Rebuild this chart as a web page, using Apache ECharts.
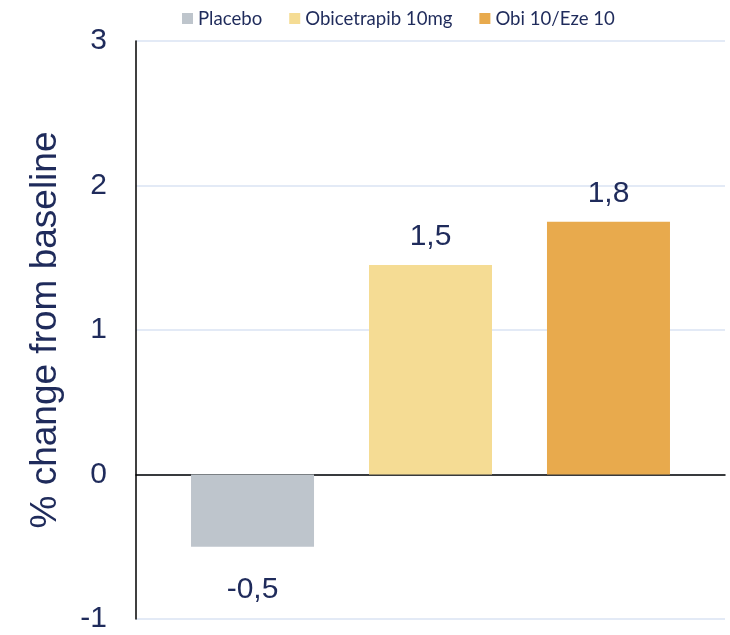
<!DOCTYPE html>
<html>
<head>
<meta charset="utf-8">
<script src="https://cdn.jsdelivr.net/npm/echarts@6/dist/echarts.min.js"></script>
<style>
html,body{margin:0;padding:0;background:#fff;}
#chart{width:730px;height:635px;}
</style>
</head>
<body>
<div id="chart"></div>
<script>
var categories = [''];
var seriesNames = ['Placebo', 'Obicetrapib 10mg', 'Obi 10/Eze 10'];
var seriesValues = [-0.5, 1.45, 1.75];
var valueLabels = ['-0,5', '1,5', '1,8'];
var yTicks = [-1, 0, 1, 2, 3];

var colors = ['#bec5cc', '#f5dc94', '#e8aa4d'];
var navy = '#1f2b5b';

var chart = echarts.init(document.getElementById('chart'));
var series = seriesNames.map(function (name, i) {
  return {
    name: name,
    type: 'bar',
    data: [seriesValues[i]],
    barWidth: 123,
    barGap: '44.7%',
    itemStyle: { color: colors[i] },
    label: {
      show: true,
      position: seriesValues[i] < 0 ? 'bottom' : 'top',
      distance: seriesValues[i] < 0 ? 28 : 13,
      formatter: function () { return valueLabels[i]; },
      color: navy,
      fontFamily: 'Liberation Sans',
      fontSize: 30
    }
  };
});

chart.setOption({
  animation: false,
  color: colors,
  legend: {
    data: seriesNames,
    left: 177,
    top: 4,
    itemWidth: 11,
    itemHeight: 11,
    itemGap: 27,
    icon: 'rect',
    textStyle: { color: navy, fontFamily: 'Lato', fontSize: 18.6 }
  },
  grid: { left: 136, right: 5, top: 41, bottom: 16, containLabel: false },
  xAxis: {
    type: 'category',
    data: categories,
    axisLine: { show: true, onZero: true, lineStyle: { color: '#000', width: 1.5 } },
    axisTick: { show: false },
    axisLabel: { show: false }
  },
  yAxis: {
    type: 'value',
    min: yTicks[0],
    max: yTicks[yTicks.length - 1],
    interval: 1,
    name: '% change from baseline',
    nameLocation: 'middle',
    nameGap: 72,
    nameTextStyle: { color: navy, fontFamily: 'Liberation Sans', fontSize: 37 },
    axisLine: { show: true, lineStyle: { color: '#000', width: 1.5 } },
    axisTick: { show: false },
    axisLabel: {
      color: navy, fontFamily: 'Liberation Sans', fontSize: 30, margin: 29,
      formatter: function (v) { return String(v); }
    },
    splitLine: { show: true, lineStyle: { color: '#dae3f3', width: 1.5 } }
  },
  series: series
});
</script>
</body>
</html>
